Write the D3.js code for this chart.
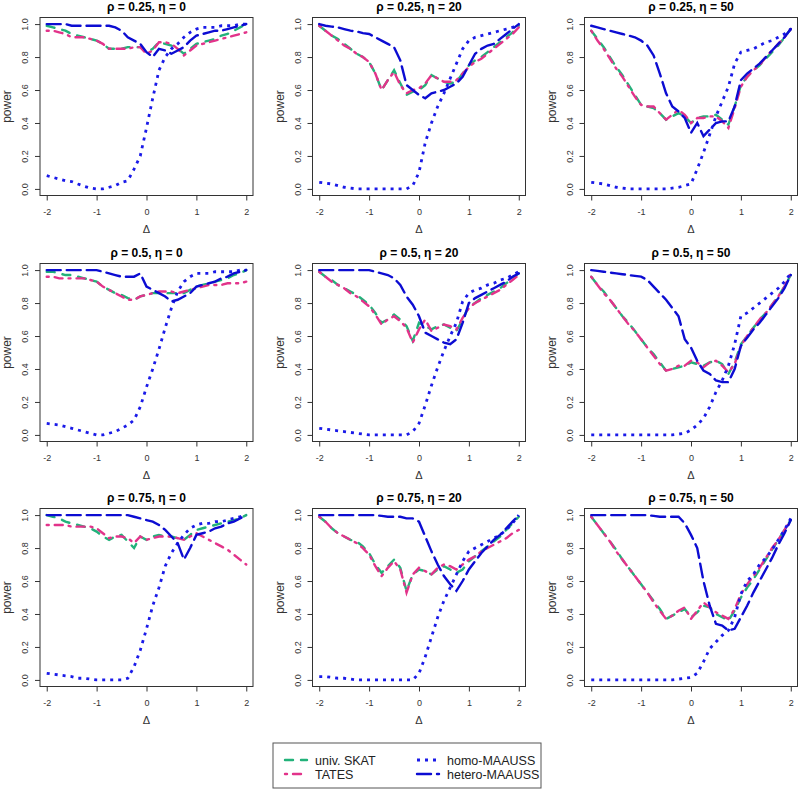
<!DOCTYPE html>
<html>
<head>
<meta charset="utf-8">
<script src="https://cdn.jsdelivr.net/npm/d3@7"></script>
<style>
  body { margin: 0; background: #fff; }
  svg { display: block; font-family: "Liberation Sans", Arial, sans-serif; }
</style>
</head>
<body>
<div id="chart"></div>
<script>
// Delta grid shared by every panel
var delta = [-2, -1.875, -1.75, -1.625, -1.5, -1.375, -1.25, -1.125, -1, -0.875, -0.75, -0.625, -0.5, -0.375, -0.25, -0.125,
  0, 0.125, 0.25, 0.375, 0.5, 0.625, 0.75, 0.875, 1, 1.125, 1.25, 1.375, 1.5, 1.625, 1.75, 1.875, 2];

var rhoLabels = ["0.25", "0.5", "0.75"];
var etaLabels = ["0", "20", "50"];
var methods = ["univ. SKAT", "TATES", "homo-MAAUSS", "hetero-MAAUSS"];
var yTicks = [0, 0.2, 0.4, 0.6, 0.8, 1.0];
var xTicks = [-2, -1, 0, 1, 2];

// rho = 0.25
var skat_25_0 = [0.99,0.98,0.97,0.96,0.94,0.93,0.92,0.91,0.90,0.88,0.85,0.85,0.85,0.86,0.86,0.86,0.83,0.85,0.89,0.88,0.87,0.85,0.82,0.85,0.88,0.89,0.90,0.91,0.93,0.94,0.96,0.98,1.00];
var tates_25_0 = [0.96,0.96,0.95,0.94,0.92,0.92,0.92,0.91,0.90,0.88,0.85,0.85,0.85,0.85,0.86,0.86,0.82,0.84,0.89,0.89,0.88,0.85,0.81,0.84,0.87,0.88,0.89,0.90,0.91,0.92,0.93,0.94,0.95];
var homo_25_0 = [0.08,0.07,0.06,0.05,0.045,0.03,0.016,0.005,0.00,0.00,0.01,0.02,0.04,0.05,0.12,0.20,0.37,0.55,0.72,0.80,0.85,0.88,0.92,0.95,0.97,0.98,0.98,0.98,0.99,0.99,0.99,1.00,1.00];
var hetero_25_0 = [1.00,1.00,1.00,1.00,0.99,0.99,0.99,0.99,0.99,0.99,0.99,0.98,0.96,0.92,0.90,0.88,0.83,0.80,0.85,0.84,0.82,0.84,0.86,0.90,0.93,0.94,0.95,0.96,0.96,0.97,0.98,0.99,1.00];

var skat_25_20 = [0.99,0.96,0.93,0.91,0.88,0.85,0.82,0.80,0.77,0.70,0.60,0.66,0.72,0.64,0.57,0.59,0.60,0.63,0.69,0.67,0.65,0.64,0.65,0.70,0.75,0.78,0.80,0.83,0.86,0.89,0.92,0.95,0.99];
var tates_25_20 = [0.99,0.96,0.93,0.90,0.87,0.85,0.82,0.80,0.77,0.70,0.60,0.66,0.71,0.63,0.58,0.60,0.61,0.64,0.69,0.67,0.65,0.65,0.66,0.70,0.74,0.77,0.79,0.82,0.85,0.88,0.91,0.94,0.98];
var homo_25_20 = [0.04,0.035,0.03,0.02,0.01,0.005,0.00,0.00,0.00,0.00,0.00,0.00,0.00,0.00,0.00,0.02,0.10,0.28,0.40,0.50,0.58,0.67,0.76,0.85,0.90,0.92,0.93,0.94,0.95,0.96,0.97,0.98,1.00];
var hetero_25_20 = [1.00,0.99,0.985,0.98,0.97,0.96,0.955,0.945,0.94,0.92,0.90,0.88,0.86,0.78,0.63,0.60,0.57,0.55,0.58,0.59,0.60,0.62,0.64,0.68,0.75,0.82,0.85,0.87,0.88,0.91,0.94,0.97,1.00];

var skat_25_50 = [0.96,0.91,0.86,0.80,0.74,0.69,0.63,0.57,0.51,0.50,0.49,0.46,0.42,0.44,0.46,0.44,0.40,0.43,0.44,0.44,0.45,0.42,0.39,0.50,0.63,0.68,0.72,0.75,0.79,0.83,0.87,0.92,0.97];
var tates_25_50 = [0.96,0.90,0.85,0.79,0.73,0.68,0.62,0.56,0.51,0.50,0.50,0.46,0.42,0.45,0.48,0.45,0.40,0.43,0.43,0.44,0.44,0.41,0.37,0.49,0.62,0.68,0.72,0.75,0.80,0.84,0.88,0.92,0.97];
var homo_25_50 = [0.04,0.035,0.03,0.02,0.01,0.005,0.00,0.00,0.00,0.00,0.00,0.00,0.00,0.005,0.01,0.02,0.03,0.12,0.22,0.33,0.44,0.53,0.62,0.76,0.83,0.84,0.85,0.87,0.89,0.90,0.92,0.94,0.97];
var hetero_25_50 = [0.99,0.98,0.97,0.96,0.95,0.94,0.93,0.92,0.90,0.87,0.81,0.70,0.58,0.50,0.47,0.43,0.34,0.40,0.32,0.36,0.40,0.41,0.41,0.50,0.66,0.70,0.73,0.76,0.80,0.84,0.88,0.92,0.97];

// rho = 0.5
var skat_5_0 = [0.99,0.99,0.98,0.97,0.97,0.96,0.95,0.94,0.93,0.90,0.88,0.86,0.85,0.83,0.82,0.84,0.85,0.86,0.86,0.86,0.86,0.86,0.86,0.88,0.90,0.91,0.92,0.93,0.94,0.95,0.97,0.98,1.00];
var tates_5_0 = [0.96,0.96,0.95,0.95,0.95,0.95,0.95,0.94,0.93,0.90,0.88,0.86,0.84,0.82,0.82,0.84,0.85,0.86,0.87,0.87,0.87,0.86,0.87,0.88,0.89,0.90,0.91,0.91,0.91,0.92,0.92,0.92,0.93];
var homo_5_0 = [0.07,0.065,0.06,0.05,0.04,0.03,0.02,0.01,0.00,0.00,0.01,0.02,0.04,0.06,0.09,0.17,0.29,0.40,0.52,0.65,0.77,0.87,0.93,0.96,0.98,0.98,0.98,0.99,0.99,0.99,0.99,1.00,1.00];
var hetero_5_0 = [1.00,1.00,1.00,1.00,1.00,1.00,1.00,1.00,1.00,0.99,0.98,0.97,0.96,0.96,0.96,0.98,0.90,0.88,0.86,0.84,0.81,0.82,0.84,0.86,0.90,0.91,0.92,0.93,0.95,0.96,0.98,0.99,1.00];

var skat_5_20 = [0.99,0.96,0.94,0.91,0.89,0.87,0.85,0.82,0.79,0.74,0.68,0.70,0.73,0.70,0.66,0.57,0.68,0.66,0.64,0.66,0.67,0.65,0.63,0.70,0.78,0.80,0.83,0.85,0.87,0.89,0.92,0.95,0.98];
var tates_5_20 = [0.99,0.96,0.93,0.91,0.89,0.86,0.84,0.81,0.78,0.73,0.67,0.70,0.72,0.69,0.65,0.56,0.64,0.70,0.63,0.65,0.67,0.66,0.64,0.71,0.77,0.80,0.82,0.84,0.86,0.88,0.91,0.94,0.97];
var homo_5_20 = [0.04,0.035,0.03,0.025,0.02,0.015,0.01,0.005,0.00,0.00,0.00,0.00,0.00,0.00,0.00,0.02,0.07,0.18,0.30,0.41,0.51,0.60,0.68,0.81,0.86,0.88,0.89,0.91,0.92,0.94,0.95,0.97,0.99];
var hetero_5_20 = [1.00,1.00,1.00,1.00,1.00,1.00,1.00,1.00,1.00,0.99,0.98,0.97,0.95,0.91,0.84,0.79,0.72,0.62,0.60,0.58,0.56,0.55,0.58,0.68,0.80,0.83,0.85,0.87,0.89,0.91,0.93,0.96,0.98];

var skat_5_50 = [0.96,0.91,0.87,0.82,0.77,0.72,0.68,0.63,0.58,0.53,0.49,0.44,0.39,0.40,0.41,0.42,0.44,0.43,0.42,0.44,0.45,0.43,0.37,0.44,0.55,0.60,0.65,0.70,0.74,0.79,0.84,0.90,0.97];
var tates_5_50 = [0.96,0.91,0.86,0.82,0.77,0.72,0.67,0.63,0.58,0.53,0.48,0.43,0.39,0.40,0.42,0.42,0.45,0.44,0.41,0.44,0.45,0.42,0.38,0.43,0.54,0.60,0.65,0.70,0.74,0.79,0.84,0.90,0.98];
var homo_5_50 = [0.00,0.00,0.00,0.00,0.00,0.00,0.00,0.00,0.00,0.00,0.00,0.00,0.00,0.00,0.005,0.01,0.03,0.06,0.10,0.17,0.26,0.33,0.42,0.55,0.72,0.74,0.77,0.80,0.83,0.86,0.89,0.93,0.98];
var hetero_5_50 = [1.00,0.995,0.99,0.985,0.98,0.975,0.97,0.965,0.96,0.94,0.90,0.86,0.82,0.77,0.72,0.58,0.53,0.45,0.39,0.37,0.33,0.32,0.32,0.40,0.54,0.59,0.64,0.68,0.73,0.78,0.83,0.89,0.97];

// rho = 0.75
var skat_75_0 = [1.00,0.99,0.98,0.96,0.95,0.94,0.93,0.92,0.90,0.87,0.85,0.87,0.88,0.84,0.80,0.87,0.85,0.87,0.88,0.87,0.87,0.86,0.85,0.88,0.91,0.92,0.93,0.94,0.95,0.96,0.97,0.98,1.00];
var tates_75_0 = [0.94,0.94,0.94,0.94,0.93,0.93,0.93,0.93,0.92,0.89,0.86,0.87,0.87,0.86,0.83,0.87,0.85,0.86,0.87,0.87,0.87,0.86,0.85,0.87,0.89,0.87,0.85,0.83,0.81,0.79,0.76,0.73,0.70];
var homo_75_0 = [0.04,0.035,0.03,0.025,0.02,0.01,0.01,0.005,0.00,0.00,0.00,0.00,0.00,0.01,0.08,0.18,0.31,0.45,0.56,0.69,0.77,0.83,0.88,0.92,0.94,0.95,0.95,0.96,0.96,0.97,0.98,0.99,1.00];
var hetero_75_0 = [1.00,1.00,1.00,1.00,1.00,1.00,1.00,1.00,1.00,1.00,1.00,1.00,1.00,1.00,0.99,0.98,0.97,0.96,0.94,0.91,0.87,0.83,0.73,0.80,0.88,0.89,0.90,0.92,0.93,0.95,0.96,0.98,1.00];

var skat_75_20 = [0.99,0.96,0.92,0.89,0.87,0.85,0.84,0.81,0.77,0.70,0.65,0.69,0.73,0.68,0.54,0.64,0.67,0.66,0.64,0.67,0.69,0.67,0.65,0.67,0.72,0.75,0.78,0.81,0.84,0.87,0.91,0.95,0.99];
var tates_75_20 = [0.99,0.96,0.92,0.89,0.87,0.85,0.83,0.80,0.76,0.69,0.63,0.68,0.72,0.67,0.53,0.64,0.68,0.66,0.64,0.68,0.70,0.69,0.67,0.70,0.73,0.75,0.78,0.80,0.82,0.84,0.86,0.89,0.91];
var homo_75_20 = [0.02,0.02,0.015,0.01,0.01,0.005,0.00,0.00,0.00,0.00,0.00,0.00,0.00,0.00,0.00,0.00,0.04,0.14,0.26,0.38,0.48,0.56,0.64,0.72,0.78,0.80,0.82,0.84,0.86,0.88,0.91,0.95,1.00];
var hetero_75_20 = [1.00,1.00,1.00,1.00,1.00,1.00,1.00,1.00,1.00,1.00,0.995,0.99,0.99,0.99,0.98,0.98,0.96,0.87,0.78,0.70,0.63,0.58,0.54,0.60,0.67,0.72,0.77,0.81,0.85,0.88,0.92,0.96,1.00];

var skat_75_50 = [0.99,0.94,0.89,0.84,0.79,0.73,0.68,0.63,0.58,0.53,0.48,0.43,0.37,0.39,0.41,0.43,0.38,0.41,0.45,0.44,0.40,0.38,0.36,0.42,0.50,0.56,0.61,0.67,0.73,0.79,0.85,0.91,0.97];
var tates_75_50 = [0.99,0.94,0.89,0.84,0.78,0.73,0.68,0.63,0.58,0.53,0.47,0.42,0.37,0.39,0.42,0.44,0.37,0.42,0.47,0.44,0.41,0.39,0.37,0.43,0.52,0.58,0.63,0.68,0.74,0.80,0.85,0.91,0.97];
var homo_75_50 = [0.00,0.00,0.00,0.00,0.00,0.00,0.00,0.00,0.00,0.00,0.00,0.00,0.00,0.00,0.005,0.01,0.015,0.04,0.11,0.19,0.23,0.27,0.30,0.38,0.52,0.60,0.64,0.70,0.74,0.79,0.85,0.91,0.98];
var hetero_75_50 = [1.00,1.00,1.00,1.00,1.00,1.00,1.00,1.00,1.00,1.00,0.995,0.99,0.99,0.99,0.99,0.95,0.88,0.80,0.60,0.45,0.34,0.33,0.30,0.31,0.38,0.45,0.53,0.60,0.67,0.74,0.82,0.89,0.97];

// panels in reading order (row = rho, col = eta)
var panelSeries = [
  [skat_25_0, tates_25_0, homo_25_0, hetero_25_0],
  [skat_25_20, tates_25_20, homo_25_20, hetero_25_20],
  [skat_25_50, tates_25_50, homo_25_50, hetero_25_50],
  [skat_5_0, tates_5_0, homo_5_0, hetero_5_0],
  [skat_5_20, tates_5_20, homo_5_20, hetero_5_20],
  [skat_5_50, tates_5_50, homo_5_50, hetero_5_50],
  [skat_75_0, tates_75_0, homo_75_0, hetero_75_0],
  [skat_75_20, tates_75_20, homo_75_20, hetero_75_20],
  [skat_75_50, tates_75_50, homo_75_50, hetero_75_50]
];

// line styles, R-ish lty with lwd 2
var colors = ["#22b27a", "#e2338a", "#1a1ae8", "#0c0cd2"];
var dashes = ["8,8", "2,6,8,6", "3,5", "14,6"];
var caps = ["round", "round", "butt", "round"];

var svgWidth = 800;
var svgHeight = 790;

// plot box geometry
var colLeft = [40, 312.5, 584.5];
var rowTop = [17.5, 263.5, 508.5];
var boxW = 213;
var boxH = 178;

var svg = d3.select("#chart")
  .append("svg")
  .attr("width", svgWidth)
  .attr("height", svgHeight);

var line = function(x, y) {
  return d3.line()
    .x(function(d, i) { return x(delta[i]); })
    .y(function(d) { return y(d); });
};

panelSeries.forEach(function(series, p) {
  var r = Math.floor(p / 3);
  var c = p % 3;
  var g = svg.append("g")
    .attr("transform", `translate(${colLeft[c]}, ${rowTop[r]})`);

  var x = d3.scaleLinear().domain([-2.135, 2.135]).range([0, boxW]);
  var y = d3.scaleLinear().domain([-0.04, 1.04]).range([boxH, 0]);

  // series
  series.forEach(function(vals, k) {
    g.append("path")
      .datum(vals)
      .attr("d", line(x, y))
      .attr("fill", "none")
      .attr("stroke", colors[k])
      .attr("stroke-width", k == 2 ? 2.8 : 2.4)
      .attr("stroke-linecap", caps[k])
      .attr("stroke-dasharray", dashes[k]);
  });

  // x axis
  var xa = g.append("g")
    .attr("transform", `translate(0, ${boxH})`)
    .call(d3.axisBottom(x).tickValues(xTicks).tickSize(5).tickSizeOuter(0).tickFormat(d3.format("d")));
  xa.select(".domain").remove();
  xa.selectAll("line").attr("stroke", "#333");
  xa.selectAll("text")
    .attr("y", 19).attr("dy", 0)
    .style("font-size", "9px").attr("fill", "#333")
    .text(function(d) { return d < 0 ? "-" + Math.abs(d) : d; });

  // y axis, labels rotated like R
  var ya = g.append("g")
    .call(d3.axisLeft(y).tickValues(yTicks).tickSize(5).tickSizeOuter(0).tickFormat(d3.format(".1f")));
  ya.select(".domain").remove();
  ya.selectAll("line").attr("stroke", "#333");
  ya.selectAll("text")
    .attr("transform", "rotate(-90)")
    .attr("x", 0).attr("y", -12).attr("dy", 0)
    .attr("text-anchor", "middle")
    .style("font-size", "9px").attr("fill", "#333");

  // box
  g.append("rect")
    .attr("width", boxW).attr("height", boxH)
    .attr("fill", "none").attr("stroke", "#333").attr("stroke-width", 1);

  // title
  g.append("text")
    .attr("x", boxW / 2).attr("y", -6.5)
    .attr("text-anchor", "middle")
    .style("font-size", "12px").style("font-weight", "bold")
    .text("\u03c1 = " + rhoLabels[r] + ", \u03b7 = " + etaLabels[c]);

  // axis titles
  g.append("text")
    .attr("transform", `translate(-29, ${boxH / 2}) rotate(-90)`)
    .attr("text-anchor", "middle")
    .style("font-size", "12px").attr("fill", "#333")
    .text("power");

  g.append("text")
    .attr("x", boxW / 2).attr("y", boxH + 37.5)
    .attr("text-anchor", "middle")
    .style("font-size", "11px").attr("fill", "#333")
    .text("\u0394");
});

// legend
var leg = svg.append("g").attr("transform", "translate(273, 743)");
leg.append("rect")
  .attr("width", 268).attr("height", 45)
  .attr("fill", "#fff").attr("stroke", "#555").attr("stroke-width", 1);

var legPos = [[12, 17], [12, 31], [144, 17], [144, 31]];
methods.forEach(function(m, k) {
  var p = legPos[k];
  leg.append("line")
    .attr("x1", p[0]).attr("x2", p[0] + 22)
    .attr("y1", p[1]).attr("y2", p[1])
    .attr("stroke", colors[k]).attr("stroke-width", k == 2 ? 2.8 : 2.4)
    .attr("stroke-linecap", caps[k])
    .attr("stroke-dasharray", dashes[k]);
  leg.append("text")
    .attr("x", p[0] + 30).attr("y", p[1] + 5)
    .style("font-size", "12.5px").attr("fill", "#222")
    .text(m);
});
</script>
</body>
</html>
